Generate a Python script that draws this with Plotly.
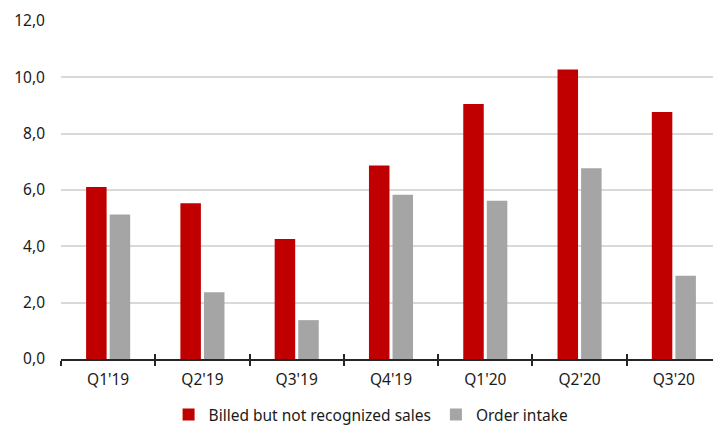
import plotly.graph_objects as go

categories = ["Q1'19", "Q2'19", "Q3'19", "Q4'19", "Q1'20", "Q2'20", "Q3'20"]
billed = [6.11, 5.53, 4.26, 6.87, 9.05, 10.28, 8.77]
orders = [5.13, 2.37, 1.38, 5.83, 5.62, 6.77, 2.96]
y_ticks = [0, 2, 4, 6, 8, 10, 12]

FONT = "Noto Sans"

fig = go.Figure()
fig.add_trace(go.Bar(x=categories, y=billed, name="Billed but not recognized sales",
                     marker=dict(color="#C00000", line=dict(width=0))))
fig.add_trace(go.Bar(x=categories, y=orders, name="Order intake",
                     marker=dict(color="#A5A5A5", line=dict(width=0))))

n = len(categories)
xr = [-0.5, n - 0.5 - 8 / 94.3]

fig.update_layout(
    width=713, height=432,
    margin=dict(l=61, r=0, t=21, b=73, autoexpand=False),
    plot_bgcolor="white", paper_bgcolor="white",
    separators=",.",
    barmode="group", bargap=0.5, bargroupgap=0.13,
    font=dict(family=FONT, size=15.5, color="#1a1a1a"),
    showlegend=True,
    legend=dict(orientation="h", x=0.165, xanchor="left", xref="paper",
                y=0, yanchor="bottom", yref="container",
                font=dict(family=FONT, size=15.5, color="#1a1a1a"),
                itemwidth=30, traceorder="normal"),
    xaxis=dict(type="category", range=xr, showgrid=False, showline=True,
               linecolor="#262626", linewidth=1.5, ticks="outside", ticklen=5,
               tickwidth=1.5, tickcolor="#262626", tickson="boundaries",
               ticklabelstandoff=6, zeroline=False, automargin=False),
    xaxis2=dict(overlaying="x", range=xr, showgrid=False, showline=False,
                ticks="inside", ticklen=5, tickwidth=1.5, tickcolor="#262626",
                tickvals=[i - 0.5 for i in range(n + 1)], showticklabels=False,
                zeroline=False, side="bottom", anchor="y", automargin=False),
    yaxis=dict(range=[0, 12], tickvals=y_ticks, tickformat=".1f", showgrid=True,
               gridcolor="#D9D9D9", gridwidth=1.5, showline=False, zeroline=False,
               ticks="", ticklabelstandoff=15, automargin=False),
)
fig.add_trace(go.Scatter(x=[0], y=[None], xaxis="x2", showlegend=False, hoverinfo="skip"))

fig.write_html("out.html")
